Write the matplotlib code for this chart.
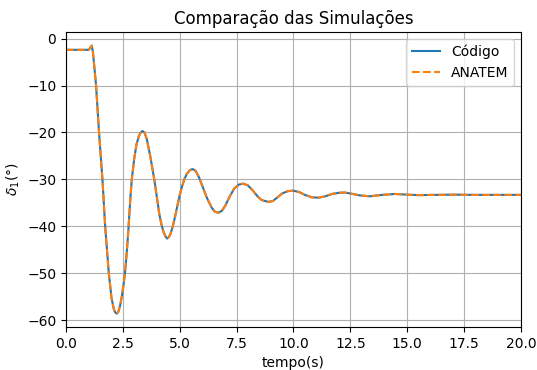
import matplotlib
matplotlib.use("Agg")
import matplotlib.pyplot as plt

# pontos (tempo em s, delta_1 em graus)
tempo = [0.0, 0.5, 1.0, 1.06, 1.13, 1.18, 1.23, 1.32, 1.45, 1.6, 1.72, 1.88,
         2.0, 2.1, 2.16, 2.23, 2.3, 2.38, 2.45, 2.52, 2.59, 2.67, 2.74, 2.82,
         2.89, 3.0, 3.1, 3.2, 3.28, 3.36, 3.45, 3.55, 3.7, 3.88, 4.0, 4.1,
         4.2, 4.3, 4.38, 4.45, 4.52, 4.6, 4.7, 4.8, 4.9, 5.0, 5.1, 5.2, 5.3,
         5.45, 5.57, 5.7, 5.85, 6.0, 6.2, 6.4, 6.55, 6.7, 6.85, 7.0, 7.2, 7.4,
         7.6, 7.8, 8.0, 8.2, 8.4, 8.6, 8.9, 9.1, 9.3, 9.5, 9.75, 10.0, 10.25,
         10.5, 10.8, 11.1, 11.4, 11.7, 12.0, 12.25, 12.5, 12.9, 13.35, 13.9,
         14.45, 15.0, 15.5, 16.2, 17.0, 18.0, 19.0, 20.0]
delta_codigo = [-2.4, -2.4, -2.4, -2.0, -1.5, -2.8, -5.3, -10.0, -20.0, -30.0,
                -40.0, -50.0, -55.3, -57.6, -58.3, -58.6, -58.2, -56.8, -55.0,
                -52.7, -50.0, -45.5, -40.8, -34.6, -30.0, -25.5, -22.5, -20.8,
                -20.0, -19.7, -20.0, -21.4, -25.0, -30.0, -34.0, -37.4, -39.7,
                -41.4, -42.2, -42.6, -42.3, -41.5, -39.9, -37.8, -35.5, -33.3,
                -31.5, -30.0, -28.9, -28.0, -27.8, -28.2, -29.6, -31.5, -34.0,
                -36.0, -36.9, -37.1, -36.7, -35.6, -33.6, -31.9, -31.1, -30.9,
                -31.3, -32.3, -33.5, -34.4, -34.8, -34.6, -33.8, -33.0, -32.5,
                -32.4, -32.7, -33.3, -33.8, -33.9, -33.6, -33.1, -32.85, -32.8,
                -33.0, -33.4, -33.6, -33.3, -33.1, -33.25, -33.35, -33.3,
                -33.25, -33.3, -33.3, -33.3]
delta_anatem = list(delta_codigo)

fig, ax = plt.subplots(figsize=(5.37, 3.7), dpi=100)
fig.subplots_adjust(left=0.123, right=0.970, top=0.913, bottom=0.116)

ax.plot(tempo, delta_codigo, label='Código')
ax.plot(tempo, delta_anatem, linestyle='--', label='ANATEM')
ax.set_xlim(0, 20)
ax.set_xlabel('tempo(s)')
ax.set_ylabel(r'$\delta_1(°)$')
ax.set_title('Comparação das Simulações')
ax.grid(True)
ax.legend(loc='upper right')

fig.savefig('out.png', dpi=100)
